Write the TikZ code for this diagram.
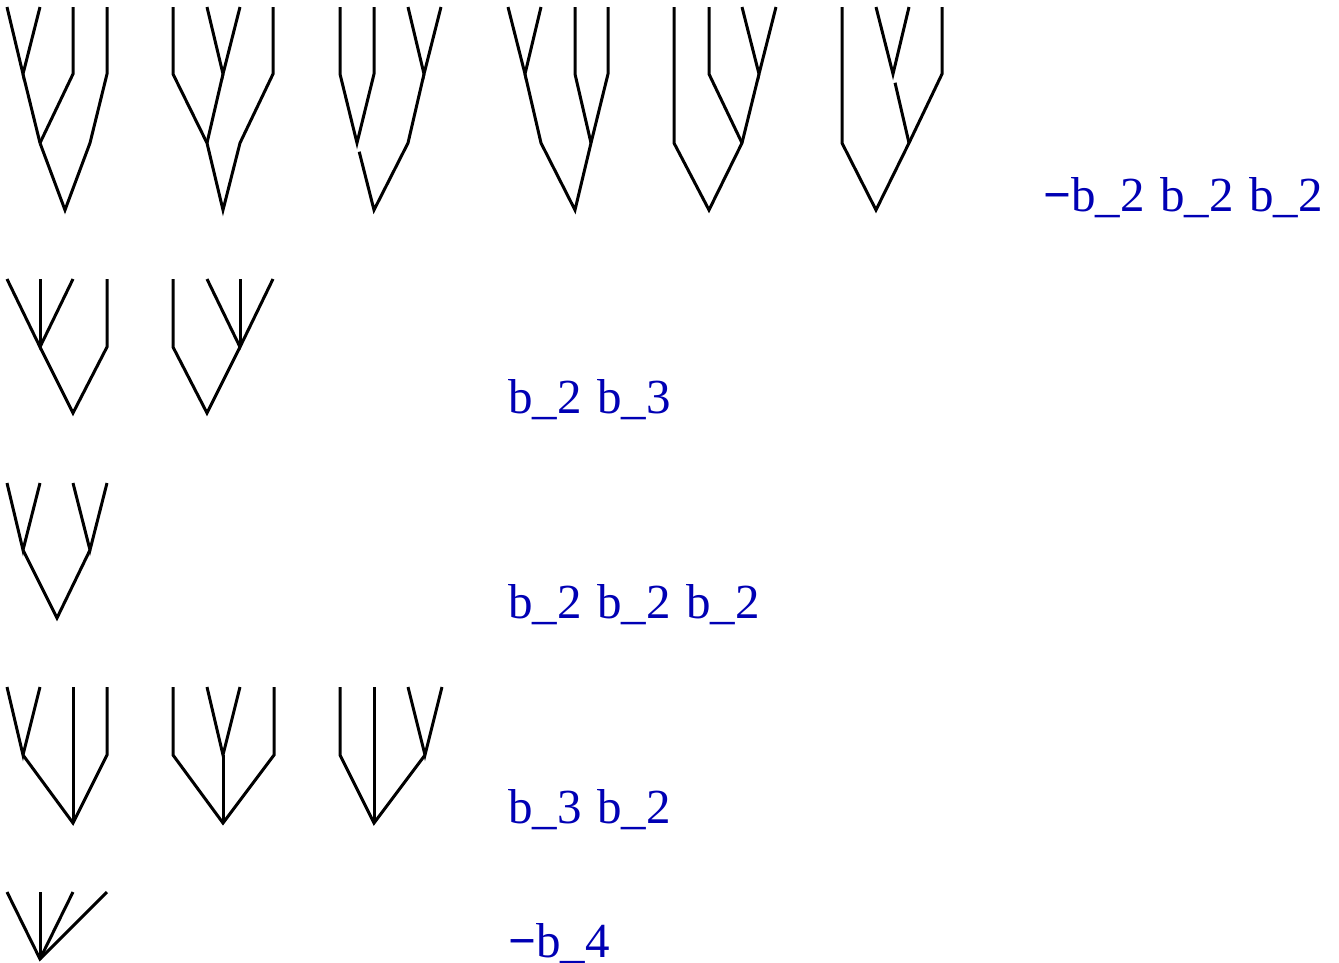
\documentclass[tikz,border=0pt]{standalone}
\usepackage{fontspec}
\setmainfont{Liberation Serif}
\definecolor{labelblue}{RGB}{0,0,180}
\newcommand{\coeffont}{\fontsize{49}{53}\selectfont\spaceskip=15.5pt\relax}
\newcommand{\negsign}{\textbf{−}}
\tikzset{
  edge/.style={line width=3pt, black},
  gapped/.style={edge, shorten <=9pt},
  lbl/.style={text=labelblue, font=\coeffont, anchor=base west, inner sep=0pt}
}
\begin{document}
\begin{tikzpicture}[x=1pt,y=-1pt]
\useasboundingbox (0,0) rectangle (1339,962);

% ---- row 1: six binary trees with four leaves ----
% tree ((12)3)4
\coordinate (a1) at (7,7);   \coordinate (a2) at (40,7);
\coordinate (a3) at (73,7);  \coordinate (a4) at (107,7);
\coordinate (a3b) at (73,74); \coordinate (a4b) at (107,74);
\coordinate (a4c) at (90,143);
\coordinate (aA) at (23,74); \coordinate (aB) at (40,143); \coordinate (aR) at (65,210);
\draw[edge] (a1) -- (aA) -- (a2);
\draw[edge] (aA) -- (aB);
\draw[edge] (a3) -- (a3b) -- (aB);
\draw[edge] (a4) -- (a4b) -- (a4c) -- (aR) -- (aB);

% tree (1(23))4
\coordinate (b1) at (173,7); \coordinate (b2) at (207,7);
\coordinate (b3) at (240,7); \coordinate (b4) at (273,7);
\coordinate (b1b) at (173,74); \coordinate (b4b) at (273,74); \coordinate (b4c) at (240,143);
\coordinate (bA) at (223,74); \coordinate (bB) at (207,143); \coordinate (bR) at (223,210);
\draw[edge] (b1) -- (b1b) -- (bB) -- (bR) -- (b4c) -- (b4b) -- (b4);
\draw[edge] (b2) -- (bA) -- (b3);
\draw[edge] (bA) -- (bB);

% tree (12)(34), right pair first
\coordinate (c1) at (340,7); \coordinate (c2) at (374,7);
\coordinate (c3) at (408,7); \coordinate (c4) at (441,7);
\coordinate (c1b) at (340,74); \coordinate (c2b) at (374,74);
\coordinate (cP) at (357,143); \coordinate (cA) at (424,74);
\coordinate (cQ) at (408,143); \coordinate (cR) at (374,210);
\draw[edge] (c1) -- (c1b) -- (cP) -- (c2b) -- (c2);
\draw[edge] (c3) -- (cA) -- (c4);
\draw[gapped] (cP) -- (cR) -- (cQ) -- (cA);

% tree (12)(34), left pair first
\coordinate (d1) at (508,7); \coordinate (d2) at (541,7);
\coordinate (d3) at (575,7); \coordinate (d4) at (608,7);
\coordinate (dA) at (525,74); \coordinate (dP) at (541,143);
\coordinate (d3b) at (575,74); \coordinate (d4b) at (608,74);
\coordinate (dB) at (591,143); \coordinate (dR) at (575,210);
\draw[edge] (d1) -- (dA) -- (d2);
\draw[edge] (dA) -- (dP) -- (dR) -- (dB) -- (d4b) -- (d4);
\draw[edge] (d3) -- (d3b) -- (dB);

% tree 1(2(34))
\coordinate (e1) at (674,7); \coordinate (e2) at (709,7);
\coordinate (e3) at (742,7); \coordinate (e4) at (776,7);
\coordinate (e1b) at (674,143); \coordinate (e2b) at (709,74);
\coordinate (eA) at (759,74); \coordinate (eB) at (742,143); \coordinate (eR) at (709,210);
\draw[edge] (e1) -- (e1b) -- (eR) -- (eB) -- (eA);
\draw[edge] (e3) -- (eA) -- (e4);
\draw[edge] (e2) -- (e2b) -- (eB);

% tree 1((23)4)
\coordinate (f1) at (842,7); \coordinate (f2) at (876,7);
\coordinate (f3) at (909,7); \coordinate (f4) at (942,7);
\coordinate (f1b) at (842,143); \coordinate (f4b) at (942,74);
\coordinate (fA) at (893,74); \coordinate (fB) at (909,143); \coordinate (fR) at (876,210);
\draw[edge] (f1) -- (f1b) -- (fR) -- (fB) -- (f4b) -- (f4);
\draw[edge] (f2) -- (fA) -- (f3);
\draw[gapped] (fA) -- (fB);

% ---- row 2: one ternary vertex ----
\coordinate (g1) at (7,279); \coordinate (g2) at (40,279);
\coordinate (g3) at (73,279); \coordinate (g4) at (107,279);
\coordinate (g4b) at (107,347); \coordinate (gA) at (40,347); \coordinate (gR) at (73,413);
\draw[edge] (g1) -- (gA) -- (g3);
\draw[edge] (g2) -- (gA);
\draw[edge] (gA) -- (gR) -- (g4b) -- (g4);

\coordinate (h1) at (173,279); \coordinate (h2) at (207,279);
\coordinate (h3) at (240,279); \coordinate (h4) at (273,279);
\coordinate (h1b) at (173,347); \coordinate (hA) at (240,347); \coordinate (hR) at (207,413);
\draw[edge] (h1) -- (h1b) -- (hR) -- (hA);
\draw[edge] (h2) -- (hA) -- (h4);
\draw[edge] (h3) -- (hA);

% ---- row 3: two pairs ----
\coordinate (i1) at (7,483); \coordinate (i2) at (40,483);
\coordinate (i3) at (73,483); \coordinate (i4) at (107,483);
\coordinate (iA) at (23,550); \coordinate (iB) at (90,550); \coordinate (iR) at (57,618);
\draw[edge] (i1) -- (iA) -- (i2);
\draw[edge] (i3) -- (iB) -- (i4);
\draw[edge] (iA) -- (iR) -- (iB);

% ---- row 4: ternary root with one pair ----
\coordinate (j1) at (7,687); \coordinate (j2) at (40,687);
\coordinate (j3) at (73,687); \coordinate (j4) at (107,687);
\coordinate (jA) at (23,755); \coordinate (j4b) at (107,755); \coordinate (jR) at (73,823);
\draw[edge] (j1) -- (jA) -- (j2);
\draw[edge] (jA) -- (jR) -- (j4b) -- (j4);
\draw[edge] (j3) -- (jR);

\coordinate (k1) at (173,687); \coordinate (k2) at (207,687);
\coordinate (k3) at (240,687); \coordinate (k4) at (274,687);
\coordinate (k1b) at (173,755); \coordinate (k4b) at (274,755);
\coordinate (kA) at (223,755); \coordinate (kR) at (223,823);
\draw[edge] (k1) -- (k1b) -- (kR) -- (k4b) -- (k4);
\draw[edge] (k2) -- (kA) -- (k3);
\draw[edge] (kA) -- (kR);

\coordinate (l1) at (340,687); \coordinate (l2) at (374,687);
\coordinate (l3) at (408,687); \coordinate (l4) at (442,687);
\coordinate (l1b) at (340,755); \coordinate (lA) at (425,755); \coordinate (lR) at (374,823);
\draw[edge] (l1) -- (l1b) -- (lR) -- (lA);
\draw[edge] (l3) -- (lA) -- (l4);
\draw[edge] (l2) -- (lR);

% ---- row 5: corolla ----
\coordinate (m1) at (7,892); \coordinate (m2) at (40,892);
\coordinate (m3) at (73,892); \coordinate (m4) at (107,892);
\coordinate (mR) at (40,959);
\draw[edge] (m1) -- (mR) -- (m4);
\draw[edge] (m2) -- (mR);
\draw[edge] (m3) -- (mR);

% ---- coefficients ----
\node[lbl] (t1) at (1043,211) {\negsign b\_2 b\_2 b\_2};
\node[lbl] (t2) at (508,413) {b\_2 b\_3};
\node[lbl] (t3) at (508,618) {b\_2 b\_2 b\_2};
\node[lbl] (t4) at (508,823) {b\_3 b\_2};
\node[lbl] (t5) at (508,957) {\negsign b\_4};
\end{tikzpicture}
\end{document}
